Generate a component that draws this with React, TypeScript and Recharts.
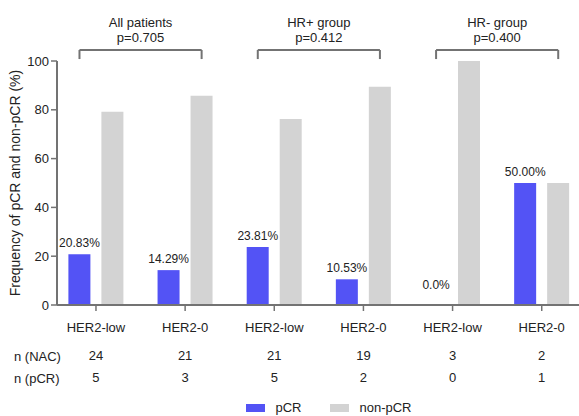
import React from "react";
import {
  BarChart,
  Bar,
  XAxis,
  YAxis,
  ReferenceLine,
  ReferenceDot,
  Legend,
} from "recharts";

// ---- data ----
const categories = ["HER2-low", "HER2-0", "HER2-low", "HER2-0", "HER2-low", "HER2-0"];
const pcrValues = [20.83, 14.29, 23.81, 10.53, 0, 50];
const nonPcrValues = [79.17, 85.71, 76.19, 89.47, 100, 50];
const pcrLabels = ["20.83%", "14.29%", "23.81%", "10.53%", "0.0%", "50.00%"];
const nNac = [24, 21, 21, 19, 3, 2];
const nPcr = [5, 3, 5, 2, 0, 1];
const yTicks = [0, 20, 40, 60, 80, 100];
const seriesNames = ["pCR", "non-pCR"];

const groupNames = ["All patients", "HR+ group", "HR- group"];
const groupP = ["p=0.705", "p=0.412", "p=0.400"];
const groupFrom = [0, 2, 4];
const groupTo = [1, 3, 5];
const bracketTop = 104.5;
const bracketFoot = 100.8;

const data = categories.map((c, i) => ({
  cat: c,
  idx: i,
  pcr: pcrValues[i],
  nonpcr: nonPcrValues[i],
  pcrLabel: pcrLabels[i],
  nac: String(nNac[i]),
  npcr: String(nPcr[i]),
}));

// ---- styling ----
const W = 579;
const H = 416;
const FONT = "'Liberation Sans', Arial, Helvetica, sans-serif";
const AXIS = "#737373";
const TXT = "#222222";
const BLUE = "#5353F5";
const GREY = "#D3D3D3";
const BAR_SIZE = 22;
const BAR_GAP = 11;
const PAD = { left: -5.6, right: -7.3 };
const BAND = (W - 57 - PAD.left - PAD.right) / categories.length;
const BAR_OFF = (BAR_SIZE + BAR_GAP) / 2 / BAND;

const BarLabel = (text: string, isZero: boolean) => (props: any) => {
  const vb = props.viewBox || {};
  if (vb.x == null || vb.y == null) return null;
  const cx = vb.x + (vb.width || 0) / 2;
  const cy = vb.y + (vb.height || 0) / 2;
  const lift = isZero ? 16 : 7;
  return (
    <text x={cx} y={cy - lift} textAnchor="middle" fill={TXT} fontSize={12} fontFamily={FONT}>
      {text}
    </text>
  );
};

const GroupLabel = (name: string, p: string) => (props: any) => {
  const vb = props.viewBox || {};
  const cx = vb.x + (vb.width || 0) / 2;
  const y = vb.y;
  return (
    <g>
      <text x={cx} y={y - 23} textAnchor="middle" fill={TXT} fontSize={13} fontFamily={FONT}>
        {name}
      </text>
      <text x={cx} y={y - 8.5} textAnchor="middle" fill={TXT} fontSize={13} fontFamily={FONT}>
        {p}
      </text>
    </g>
  );
};

const renderLegend = (props: any) => {
  const payload = [...(props.payload || [])].sort(
    (a: any, b: any) => seriesNames.indexOf(a.value) - seriesNames.indexOf(b.value)
  );
  return (
    <div
      style={{
        display: "flex",
        justifyContent: "center",
        paddingTop: 11,
        paddingLeft: 79,
        height: 16,
        lineHeight: "16px",
        fontFamily: FONT,
        fontSize: 13,
        color: TXT,
        boxSizing: "content-box",
      }}
    >
      {payload.map((e: any, i: number) => (
        <div
          key={i}
          style={{ display: "flex", alignItems: "center", marginRight: i === 0 ? 29 : 0 }}
        >
          <span
            style={{
              display: "inline-block",
              width: 19,
              height: 8,
              background: e.color,
              marginRight: 10,
            }}
          />
          <span>{e.value}</span>
        </div>
      ))}
    </div>
  );
};

export default function App() {
  return (
    <div style={{ position: "absolute", left: 0, top: 0, background: "#fff" }}>
      <BarChart
        width={W}
        height={H}
        data={data}
        margin={{ top: 61, right: 0, bottom: 0, left: 0 }}
        barSize={BAR_SIZE}
        barGap={BAR_GAP}
        style={{ fontFamily: FONT }}
      >
        <YAxis
          width={57}
          domain={[0, 100]}
          ticks={yTicks}
          interval={0}
          tickSize={6}
          axisLine={{ stroke: AXIS, strokeWidth: 2 }}
          tickLine={{ stroke: AXIS, strokeWidth: 1.5 }}
          tick={{ fill: TXT, fontSize: 13, fontFamily: FONT }}
          label={{
            value: "Frequency of pCR and non-pCR (%)",
            angle: -90,
            position: "insideLeft",
            offset: 15,
            fill: TXT,
            fontSize: 14,
            fontFamily: FONT,
            style: { textAnchor: "middle" },
          }}
        />
        <XAxis
          dataKey="cat"
          xAxisId={0}
          height={40}
          padding={PAD}
          interval={0}
          tickSize={6}
          tickMargin={12}
          axisLine={{ stroke: AXIS, strokeWidth: 2 }}
          tickLine={{ stroke: AXIS, strokeWidth: 1.5 }}
          tick={{ fill: TXT, fontSize: 13, fontFamily: FONT }}
        />
        <XAxis
          dataKey="nac"
          xAxisId="nac"
          height={22}
          padding={PAD}
          interval={0}
          tickSize={0}
          tickMargin={6}
          axisLine={false}
          tickLine={false}
          tick={{ fill: TXT, fontSize: 13, fontFamily: FONT }}
          label={{
            value: "n (NAC)",
            position: "insideLeft",
            offset: -43,
            fill: TXT,
            fontSize: 13,
            fontFamily: FONT,
          }}
        />
        <XAxis
          dataKey="npcr"
          xAxisId="npcr"
          height={22}
          padding={PAD}
          interval={0}
          tickSize={0}
          tickMargin={6}
          axisLine={false}
          tickLine={false}
          tick={{ fill: TXT, fontSize: 13, fontFamily: FONT }}
          label={{
            value: "n (pCR)",
            position: "insideLeft",
            offset: -43,
            fill: TXT,
            fontSize: 13,
            fontFamily: FONT,
          }}
        />
        <XAxis
          xAxisId="num"
          type="number"
          dataKey="idx"
          domain={[-0.5, 5.5]}
          padding={PAD}
          hide
          height={0}
        />
        <Legend verticalAlign="bottom" content={renderLegend} />
        <Bar dataKey="pcr" name="pCR" fill={BLUE} isAnimationActive={false} />
        <Bar dataKey="nonpcr" name="non-pCR" fill={GREY} isAnimationActive={false} />
        {pcrValues.map((v, i) => (
          <ReferenceDot
            key={"d" + i}
            xAxisId="num"
            x={i - BAR_OFF}
            y={v}
            r={0}
            fill="none"
            stroke="none"
            ifOverflow="visible"
            label={BarLabel(pcrLabels[i], v === 0)}
          />
        ))}
        {groupNames.map((g, i) => (
          <ReferenceLine
            key={"h" + i}
            xAxisId="num"
            ifOverflow="visible"
            stroke={AXIS}
            strokeWidth={2}
            segment={[
              { x: groupFrom[i] - BAR_OFF, y: bracketTop },
              { x: groupTo[i] + BAR_OFF, y: bracketTop },
            ]}
            label={GroupLabel(g, groupP[i])}
          />
        ))}
        {groupNames.map((g, i) => (
          <ReferenceLine
            key={"l" + i}
            xAxisId="num"
            ifOverflow="visible"
            stroke={AXIS}
            strokeWidth={2}
            segment={[
              { x: groupFrom[i] - BAR_OFF, y: bracketTop },
              { x: groupFrom[i] - BAR_OFF, y: bracketFoot },
            ]}
          />
        ))}
        {groupNames.map((g, i) => (
          <ReferenceLine
            key={"r" + i}
            xAxisId="num"
            ifOverflow="visible"
            stroke={AXIS}
            strokeWidth={2}
            segment={[
              { x: groupTo[i] + BAR_OFF, y: bracketTop },
              { x: groupTo[i] + BAR_OFF, y: bracketFoot },
            ]}
          />
        ))}
      </BarChart>
    </div>
  );
}
